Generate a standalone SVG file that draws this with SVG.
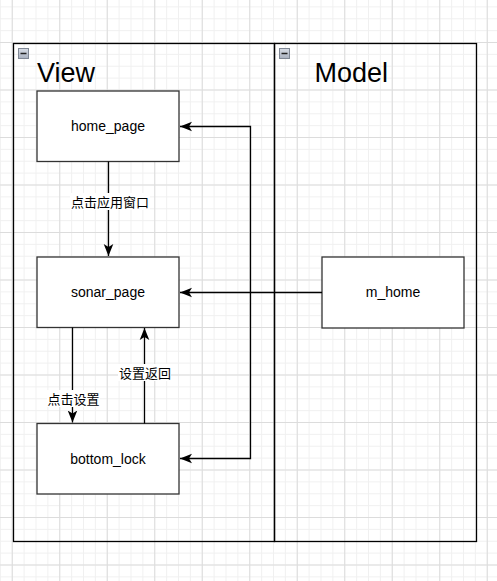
<svg xmlns="http://www.w3.org/2000/svg" width="497" height="581" viewBox="0 0 497 581">
<defs>
<pattern id="minor" patternUnits="userSpaceOnUse" x="11.75" y="-5.5" width="11.875" height="11.875">
<path d="M0,0.5 H11.875 M0.5,0 V11.875" fill="none" stroke="#f0f0f0" stroke-width="1"/>
</pattern>
<pattern id="major" patternUnits="userSpaceOnUse" x="11.75" y="-5.5" width="47.5" height="47.5">
<path d="M0,0.5 H47.5 M0.5,0 V47.5" fill="none" stroke="#dcdcdc" stroke-width="1"/>
</pattern>
<marker id="arr" markerUnits="userSpaceOnUse" markerWidth="12" markerHeight="12" refX="10" refY="5" orient="auto-start-reverse" viewBox="0 0 10 10">
<path d="M0,1 L10,5 L0,9 L2.5,5 z" fill="#000"/>
</marker>
<linearGradient id="ic" x1="0" y1="0" x2="0" y2="1">
<stop offset="0" stop-color="#d8dde6"/>
<stop offset="1" stop-color="#a9b1bf"/>
</linearGradient>
</defs>
<style>
.box{fill:#fff;stroke:#333;stroke-width:1.3}
.cont{fill:none;stroke:#000;stroke-width:1.3}
.t{font-family:"Liberation Sans",Arial,sans-serif;font-size:14px;fill:#000;text-anchor:middle}
.big{font-family:"Liberation Sans",Arial,sans-serif;font-size:27px;fill:#000}
.lbl{font-family:"Liberation Sans","Noto Sans CJK SC",sans-serif;font-size:13px;fill:#000;text-anchor:middle}
.e{fill:none;stroke:#000;stroke-width:1.3}
.ic{fill:url(#ic);stroke:#7f8794;stroke-width:1}
</style>
<rect width="497" height="581" fill="#fff"/>
<rect width="497" height="581" fill="url(#minor)"/>
<rect width="497" height="581" fill="url(#major)"/>

<g id="view">
<rect class="cont" x="13.5" y="43.5" width="261" height="498"/>
<rect class="ic" x="18.5" y="48.5" width="10" height="10"/>
<path d="M20.5,53.5 H26.5" stroke="#222" stroke-width="1.5"/>
<text class="big" x="37" y="81.5">View</text>
</g>
<g id="model">
<rect class="cont" x="274.5" y="43.5" width="202" height="498"/>
<rect class="ic" x="279.5" y="48.5" width="10" height="10"/>
<path d="M281.5,53.5 H287.5" stroke="#222" stroke-width="1.5"/>
<text class="big" x="314.5" y="81.5">Model</text>
</g>

<g id="home_page">
<rect class="box" x="37" y="91" width="142" height="70.5"/>
<text class="t" x="108" y="131">home_page</text>
</g>
<g id="sonar_page">
<rect class="box" x="37" y="257" width="142" height="70.5"/>
<text class="t" x="108" y="297">sonar_page</text>
</g>
<g id="bottom_lock">
<rect class="box" x="37" y="423.5" width="142" height="70.5"/>
<text class="t" x="108" y="464">bottom_lock</text>
</g>
<g id="m_home">
<rect class="box" x="322" y="257" width="142" height="71"/>
<text class="t" x="393" y="297">m_home</text>
</g>

<g id="connectors">
<path class="e" d="M108.5,161.5 V256" marker-end="url(#arr)"/>
<rect x="70" y="193" width="80" height="17" fill="#fff"/>
<text class="lbl" x="110" y="207">点击应用窗口</text>

<path class="e" d="M72.5,327.5 V422.5" marker-end="url(#arr)"/>
<rect x="47" y="390" width="53" height="17" fill="#fff"/>
<text class="lbl" x="73.5" y="404">点击设置</text>

<path class="e" d="M144.5,423.5 V328" marker-end="url(#arr)"/>
<rect x="118" y="364" width="53" height="17" fill="#fff"/>
<text class="lbl" x="145" y="378">设置返回</text>

<path class="e" d="M322,292.5 H180" marker-end="url(#arr)"/>

<path class="e" d="M180,126.5 H250.5 V458.5 H180" marker-start="url(#arr)" marker-end="url(#arr)"/>
</g>
</svg>
